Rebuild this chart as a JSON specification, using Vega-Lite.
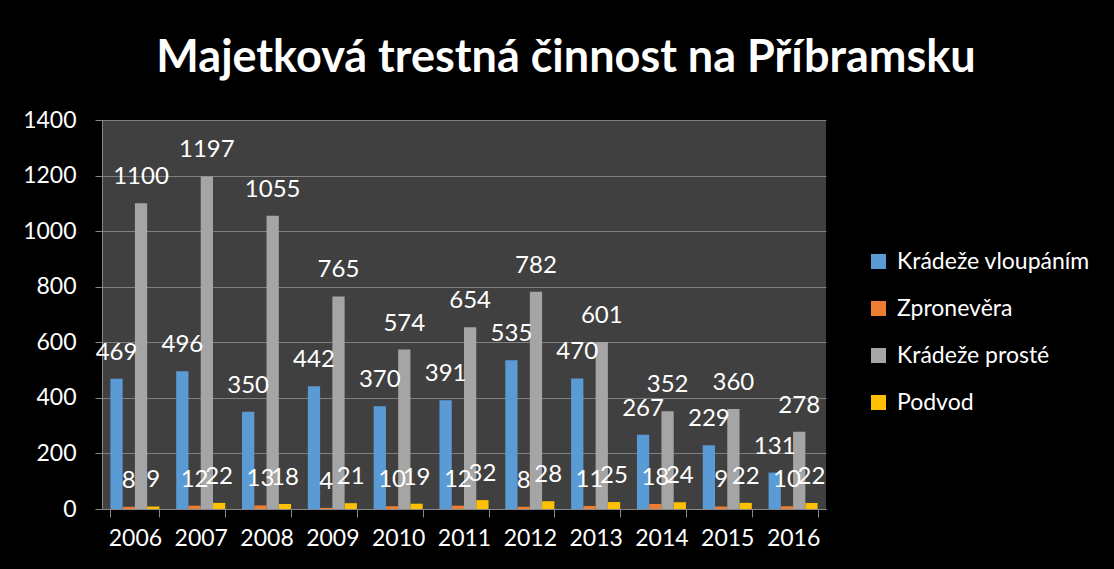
{
  "$schema": "https://vega.github.io/schema/vega-lite/v6.json",
  "width": 724,
  "height": 389,
  "autosize": {"type": "none"},
  "padding": {"left": 102, "top": 120, "right": 288, "bottom": 60},
  "background": "#000000",
  "config": {
    "font": "Lato",
    "view": {"fill": "#404040", "stroke": null},
    "axis": {"labelColor": "#ffffff", "labelFont": "Lato", "labelFontSize": 23, "domainColor": "#888888", "tickColor": "#888888", "gridColor": "#808080", "gridWidth": 1}
  },
  "title": {
    "text": "Majetková trestná činnost na Příbramsku",
    "font": "Lato",
    "fontSize": 45,
    "fontWeight": "bold",
    "color": "#ffffff",
    "anchor": "middle",
    "frame": "group",
    "dx": 102,
    "offset": 28
  },
  "data": {
    "values": [
      {"rok": "2006", "druh": "Krádeže vloupáním", "pocet": 469},
      {"rok": "2006", "druh": "Zpronevěra", "pocet": 8},
      {"rok": "2006", "druh": "Krádeže prosté", "pocet": 1100},
      {"rok": "2006", "druh": "Podvod", "pocet": 9},
      {"rok": "2007", "druh": "Krádeže vloupáním", "pocet": 496},
      {"rok": "2007", "druh": "Zpronevěra", "pocet": 12},
      {"rok": "2007", "druh": "Krádeže prosté", "pocet": 1197},
      {"rok": "2007", "druh": "Podvod", "pocet": 22},
      {"rok": "2008", "druh": "Krádeže vloupáním", "pocet": 350},
      {"rok": "2008", "druh": "Zpronevěra", "pocet": 13},
      {"rok": "2008", "druh": "Krádeže prosté", "pocet": 1055},
      {"rok": "2008", "druh": "Podvod", "pocet": 18},
      {"rok": "2009", "druh": "Krádeže vloupáním", "pocet": 442},
      {"rok": "2009", "druh": "Zpronevěra", "pocet": 4},
      {"rok": "2009", "druh": "Krádeže prosté", "pocet": 765},
      {"rok": "2009", "druh": "Podvod", "pocet": 21},
      {"rok": "2010", "druh": "Krádeže vloupáním", "pocet": 370},
      {"rok": "2010", "druh": "Zpronevěra", "pocet": 10},
      {"rok": "2010", "druh": "Krádeže prosté", "pocet": 574},
      {"rok": "2010", "druh": "Podvod", "pocet": 19},
      {"rok": "2011", "druh": "Krádeže vloupáním", "pocet": 391},
      {"rok": "2011", "druh": "Zpronevěra", "pocet": 12},
      {"rok": "2011", "druh": "Krádeže prosté", "pocet": 654},
      {"rok": "2011", "druh": "Podvod", "pocet": 32},
      {"rok": "2012", "druh": "Krádeže vloupáním", "pocet": 535},
      {"rok": "2012", "druh": "Zpronevěra", "pocet": 8},
      {"rok": "2012", "druh": "Krádeže prosté", "pocet": 782},
      {"rok": "2012", "druh": "Podvod", "pocet": 28},
      {"rok": "2013", "druh": "Krádeže vloupáním", "pocet": 470},
      {"rok": "2013", "druh": "Zpronevěra", "pocet": 11},
      {"rok": "2013", "druh": "Krádeže prosté", "pocet": 601},
      {"rok": "2013", "druh": "Podvod", "pocet": 25},
      {"rok": "2014", "druh": "Krádeže vloupáním", "pocet": 267},
      {"rok": "2014", "druh": "Zpronevěra", "pocet": 18},
      {"rok": "2014", "druh": "Krádeže prosté", "pocet": 352},
      {"rok": "2014", "druh": "Podvod", "pocet": 24},
      {"rok": "2015", "druh": "Krádeže vloupáním", "pocet": 229},
      {"rok": "2015", "druh": "Zpronevěra", "pocet": 9},
      {"rok": "2015", "druh": "Krádeže prosté", "pocet": 360},
      {"rok": "2015", "druh": "Podvod", "pocet": 22},
      {"rok": "2016", "druh": "Krádeže vloupáním", "pocet": 131},
      {"rok": "2016", "druh": "Zpronevěra", "pocet": 10},
      {"rok": "2016", "druh": "Krádeže prosté", "pocet": 278},
      {"rok": "2016", "druh": "Podvod", "pocet": 22}
    ]
  },
  "encoding": {
    "x": {
      "field": "rok",
      "type": "nominal",
      "scale": {"paddingInner": 0.255, "paddingOuter": 0.1275},
      "axis": {"title": null, "labelAngle": 0, "tickBand": "extent", "tickSize": 8, "labelPadding": 10, "grid": false}
    },
    "xOffset": {
      "field": "druh",
      "type": "nominal",
      "sort": ["Krádeže vloupáním", "Zpronevěra", "Krádeže prosté", "Podvod"],
      "scale": {"paddingInner": 0, "paddingOuter": 0}
    },
    "y": {
      "field": "pocet",
      "type": "quantitative",
      "scale": {"domain": [0, 1400], "nice": false},
      "axis": {"title": null, "format": "d", "labelOverlap": false, "values": [0, 200, 400, 600, 800, 1000, 1200, 1400], "tickSize": 7, "labelPadding": 19, "grid": true}
    }
  },
  "layer": [
    {
      "mark": {"type": "bar"},
      "encoding": {
        "color": {
          "field": "druh",
          "type": "nominal",
          "sort": ["Krádeže vloupáním", "Zpronevěra", "Krádeže prosté", "Podvod"],
          "scale": {"domain": ["Krádeže vloupáním", "Zpronevěra", "Krádeže prosté", "Podvod"], "range": ["#5B9BD5", "#ED7D31", "#A5A5A5", "#FFC000"]},
          "legend": {
            "title": null,
            "orient": "none",
            "legendX": 765,
            "legendY": 130,
            "symbolType": "square",
            "symbolSize": 225,
            "symbolStrokeWidth": 0,
            "labelColor": "#ffffff",
            "labelFont": "Lato",
            "labelFontSize": 23,
            "labelLimit": 0,
            "labelOffset": 7,
            "rowPadding": 23
          }
        }
      }
    },
    {
      "mark": {"type": "text", "color": "#ffffff", "fontSize": 24, "font": "Lato", "baseline": "bottom", "dy": -14},
      "encoding": {
        "text": {"field": "pocet", "type": "quantitative"}
      }
    }
  ]
}
